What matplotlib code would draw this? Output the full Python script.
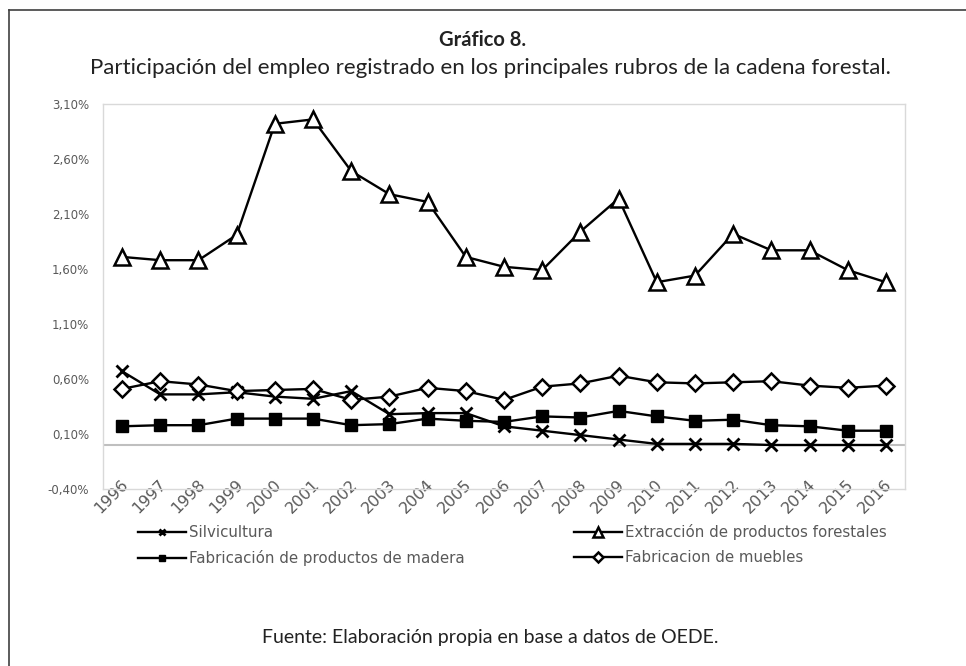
import matplotlib
matplotlib.use("Agg")
import matplotlib.pyplot as plt
import matplotlib.transforms as mtransforms
from matplotlib.lines import Line2D

years = list(range(1996, 2017))
year_labels = [str(y) for y in years]

silvicultura = [0.67, 0.46, 0.46, 0.48, 0.44, 0.42, 0.49, 0.28, 0.29, 0.29, 0.17,
                0.13, 0.09, 0.05, 0.01, 0.01, 0.01, 0.00, 0.00, 0.00, 0.00]
extraccion = [1.71, 1.68, 1.68, 1.91, 2.92, 2.96, 2.49, 2.28, 2.21, 1.71, 1.62,
              1.59, 1.94, 2.24, 1.48, 1.54, 1.92, 1.77, 1.77, 1.59, 1.48]
madera = [0.17, 0.18, 0.18, 0.24, 0.24, 0.24, 0.18, 0.19, 0.24, 0.22, 0.21,
          0.26, 0.25, 0.31, 0.26, 0.22, 0.23, 0.18, 0.17, 0.13, 0.13]
muebles = [0.51, 0.58, 0.55, 0.49, 0.50, 0.51, 0.41, 0.44, 0.52, 0.49, 0.41,
           0.53, 0.56, 0.63, 0.57, 0.56, 0.57, 0.58, 0.54, 0.52, 0.54]

y_ticks = [-0.40, 0.10, 0.60, 1.10, 1.60, 2.10, 2.60, 3.10]

fig = plt.figure(figsize=(9.66, 6.66), dpi=100)
ax = fig.add_axes([103 / 966, 1 - 489 / 666, 802 / 966, 385 / 666])

x = list(range(len(years)))
l1, = ax.plot(x, silvicultura, color="black", lw=1.7, marker="x", ms=8, mew=2)
l2, = ax.plot(x, extraccion, color="black", lw=1.7, marker="^", ms=11,
              mfc="white", mec="black", mew=1.8)
l3, = ax.plot(x, madera, color="black", lw=1.7, marker="s", ms=8,
              mfc="black", mec="black")
l4, = ax.plot(x, muebles, color="black", lw=1.7, marker="D", ms=8.5,
              mfc="white", mec="black", mew=1.8)

ax.axhline(0, color="#BFBFBF", lw=1.5, zorder=0)
ax.set_xlim(-0.5, len(years) - 0.5)
ax.set_ylim(-0.40, 3.10)
ax.set_yticks(y_ticks)
ax.set_yticklabels([f"{v:.2f}%".replace(".", ",") for v in y_ticks],
                   color="#595959", fontsize=8.5)
ax.set_xticks(x)
ax.set_xticklabels(year_labels, rotation=45, ha="right", va="center",
                   rotation_mode="anchor", color="#595959", fontsize=11.5)
ax.tick_params(axis="both", length=0)
ax.tick_params(axis="x", pad=-5)
ax.tick_params(axis="y", pad=10)
offset = mtransforms.ScaledTranslation(4 / 100, 0, fig.dpi_scale_trans)
for lab in ax.get_xticklabels():
    lab.set_transform(lab.get_transform() + offset)
for s in ax.spines.values():
    s.set_color("#D9D9D9")
    s.set_linewidth(1)

leg = fig.legend([l1, l3, l2, l4],
                 ["Silvicultura", "Fabricación de productos de madera",
                  "Extracción de productos forestales", "Fabricacion de muebles"],
                 ncol=2, loc="center", bbox_to_anchor=(0.53, 1 - 545 / 666),
                 frameon=False, markerscale=0.6, handlelength=3.2,
                 handletextpad=0.2, columnspacing=7.3, labelspacing=0.7,
                 fontsize=10.8)
for t in leg.get_texts():
    t.set_color("#595959")

fig.text(0.5, 1 - 40 / 666, "Gráfico 8.", ha="center", va="center",
         fontsize=14.5, fontweight="bold", family="Lato", color="#222222")
fig.text(0.508, 1 - 68 / 666,
         "Participación del empleo registrado en los principales rubros de la cadena forestal.",
         ha="center", va="center", fontsize=16, family="Lato", color="#222222")
fig.text(0.508, 1 - 638 / 666, "Fuente: Elaboración propia en base a datos de OEDE.",
         ha="center", va="center", fontsize=14, family="Lato", color="#222222")

fig.add_artist(Line2D([9 / 966, 9 / 966], [0, 1 - 10 / 666], color="#404040", lw=1.2))
fig.add_artist(Line2D([9 / 966, 1], [1 - 10 / 666, 1 - 10 / 666], color="#404040", lw=1.2))

fig.savefig("out.png", dpi=100)
